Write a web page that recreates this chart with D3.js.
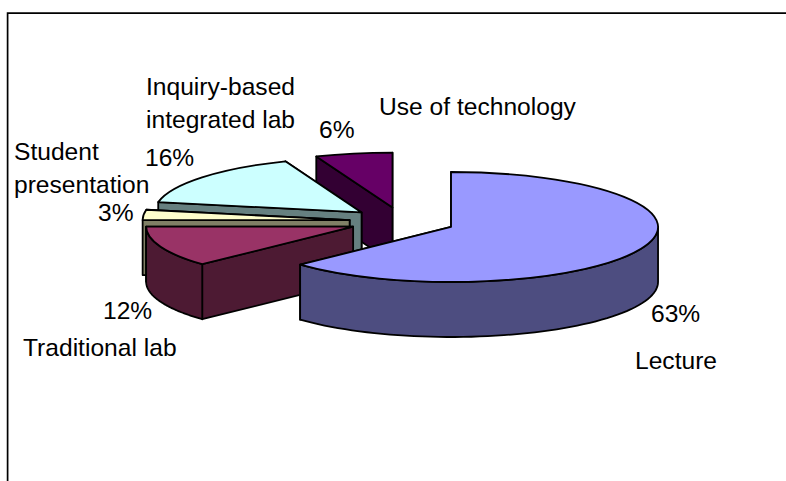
<!DOCTYPE html>
<html>
<head>
<meta charset="utf-8">
<script src="https://d3js.org/d3.v7.min.js"></script>
<style>
  html, body { margin: 0; padding: 0; background: #fff; }
  svg { display: block; }
  text { font-family: "Liberation Sans", Arial, sans-serif; font-size: 24.6px; fill: #000; }
</style>
</head>
<body>
<div id="chart-area"></div>
<script>
// data, clockwise from 12 o'clock
const categories = ["Lecture", "Traditional lab", "Student presentation", "Inquiry-based integrated lab", "Use of technology"];
const shares = [63, 12, 3, 16, 6];
const topColors = ["#9999ff", "#993366", "#ffffcc", "#ccffff", "#660066"];
const wallColors = ["#4d4d80", "#4d1a33", "#808066", "#668080", "#330033"];

// label layout, one per category: name lines then the percent line
const nameLayout = [
  { lines: ["Lecture"], x: 635, y: 369 },
  { lines: ["Traditional lab"], x: 23, y: 356 },
  { lines: ["Student", "presentation"], x: 14, y: 160 },
  { lines: ["Inquiry-based", "integrated lab"], x: 146, y: 95 },
  { lines: ["Use of technology"], x: 379, y: 115 }
];
const pctLayout = [
  { x: 651, y: 322 },
  { x: 103, y: 319 },
  { x: 98, y: 221 },
  { x: 145, y: 166 },
  { x: 319, y: 138 }
];

const width = 786, height = 481;
const cx = 402.4, cy = 221.4;  // pie centre before exploding
const radius = 207;
const squash = 55 / 207;       // ellipse ratio of the tilted pie
const depth = 55;
const explode = 53;

const svg = d3.select("#chart-area").append("svg")
  .attr("width", width)
  .attr("height", height);

// chart frame, open at right and bottom like the source crop
svg.append("path")
  .attr("d", d3.line()([[7.6, height], [7.6, 13.2], [width, 13.2]]))
  .attr("fill", "none")
  .attr("stroke", "#000")
  .attr("stroke-width", 1.7);

const pie = d3.pie().sort(null).value(d => d);
const arcs = pie(shares);

const arcGen = d3.arc().innerRadius(0).outerRadius(radius);

// screen position of a point on the pie plane
const project = (c, a, r, drop) => [
  c.x + r * Math.sin(a),
  c.y - r * squash * Math.cos(a) + drop
];

const line = d3.line();

arcs.forEach(d => {
  const mid = (d.startAngle + d.endAngle) / 2;
  d.centre = {
    x: cx + explode * Math.sin(mid),
    y: cy - explode * squash * Math.cos(mid)
  };
});

const cutFace = (c, a) => line([
  project(c, a, 0, 0),
  project(c, a, radius, 0),
  project(c, a, radius, depth),
  project(c, a, 0, depth)
]);

// only the front half of the rim faces the viewer
const rimFace = d => {
  const a0 = Math.max(d.startAngle, Math.PI / 2);
  const a1 = Math.min(d.endAngle, Math.PI * 1.5);
  if (a1 <= a0) return null;
  const steps = d3.range(0, 61).map(i => a0 + (a1 - a0) * i / 60);
  const upper = steps.map(a => project(d.centre, a, radius, 0));
  const lower = steps.slice().reverse().map(a => project(d.centre, a, radius, depth));
  return line(upper.concat(lower)) + "Z";
};

// back slices first so the front ones overlap them
const order = [4, 3, 2, 1, 0];

const slices = svg.selectAll("g.slice")
  .data(order.map(i => ({ ...arcs[i], i })))
  .enter()
  .append("g")
  .attr("class", "slice");

const styleFace = sel => sel
  .attr("fill", d => wallColors[d.i])
  .attr("stroke", "#000")
  .attr("stroke-width", 1.8)
  .attr("stroke-linejoin", "round");

slices.append("path").attr("d", d => cutFace(d.centre, d.endAngle) + "Z").call(styleFace);
slices.append("path").attr("d", d => cutFace(d.centre, d.startAngle) + "Z").call(styleFace);
slices.filter(d => rimFace(d)).append("path").attr("d", rimFace).call(styleFace);

slices.append("path")
  .attr("d", arcGen)
  .attr("transform", d => `translate(${d.centre.x},${d.centre.y}) scale(1,${squash})`)
  .attr("vector-effect", "non-scaling-stroke")
  .attr("fill", d => topColors[d.i])
  .attr("stroke", "#000")
  .attr("stroke-width", 1.8)
  .attr("stroke-linejoin", "round");

// labels
categories.forEach((name, i) => {
  const n = nameLayout[i];
  const t = svg.append("text").attr("x", n.x).attr("y", n.y);
  n.lines.forEach((l, j) => {
    t.append("tspan").attr("x", n.x).attr("dy", j ? 33 : 0).text(l);
  });
  svg.append("text")
    .attr("x", pctLayout[i].x)
    .attr("y", pctLayout[i].y)
    .text(shares[i] + "%");
});
</script>
</body>
</html>
